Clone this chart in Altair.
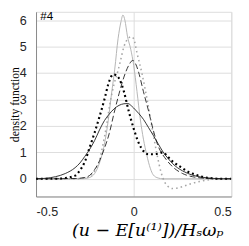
import altair as alt
import pandas as pd

# ---- data ----
gs_x = [-0.5, -0.3, -0.25, -0.225, -0.2, -0.175, -0.15, -0.13, -0.114, -0.097, -0.08, -0.065, -0.055,
        -0.045, -0.032, -0.015, 0.0, 0.017, 0.033, 0.05, 0.067, 0.085, 0.1, 0.125, 0.15, 0.5]
gs_y = [0, 0, 0.01, 0.05, 0.2, 0.6, 1.3, 2.22, 3.19, 4.15, 5.3, 5.95, 6.2,
        6.0, 5.4, 4.9, 4.3, 3.3, 2.3, 1.5, 0.9, 0.4, 0.15, 0.03, 0, 0]

gd_x = [-0.5, -0.3, -0.25, -0.225, -0.2, -0.175, -0.16, -0.14, -0.122, -0.1, -0.08, -0.066, -0.05, -0.03,
        -0.012, 0.0, 0.017, 0.042, 0.07, 0.095, 0.12, 0.14, 0.157, 0.175, 0.2, 0.225, 0.257, 0.3, 0.34,
        0.4, 0.45, 0.5]
gd_y = [0, 0, 0.03, 0.1, 0.3, 0.7, 1.2, 1.97, 2.82, 3.6, 4.1, 4.52, 5.0, 5.3,
        5.38, 5.3, 4.76, 4.0, 2.95, 1.9, 0.9, 0.25, -0.1, -0.28, -0.37, -0.35, -0.28, -0.17, -0.1,
        -0.02, 0, 0]

bd_x = [-0.5, -0.3, -0.25, -0.225, -0.2, -0.175, -0.15, -0.125, -0.1, -0.075, -0.05, -0.025, -0.005,
        0.01, 0.025, 0.05, 0.075, 0.1, 0.125, 0.15, 0.175, 0.2, 0.25, 0.3, 0.35, 0.4, 0.5]
bd_y = [0, 0.01, 0.05, 0.13, 0.35, 0.68, 1.15, 1.72, 2.5, 3.22, 3.85, 4.3, 4.48,
        4.35, 4.04, 3.3, 2.6, 1.85, 1.24, 0.9, 0.65, 0.45, 0.2, 0.08, 0.03, 0.01, 0]

bk_x = [-0.5, -0.4, -0.35, -0.3, -0.275, -0.25, -0.225, -0.2, -0.175, -0.15, -0.125, -0.105, -0.09,
        -0.075, -0.05, -0.025, 0.0, 0.025, 0.05, 0.075, 0.1, 0.125, 0.15, 0.175, 0.2, 0.225, 0.25,
        0.275, 0.3, 0.35, 0.4, 0.45, 0.5]
bk_y = [0, 0, 0.03, 0.12, 0.32, 0.65, 1.2, 1.75, 2.35, 3.0, 3.7, 3.95, 3.92,
        3.8, 3.3, 2.55, 1.9, 1.37, 1.05, 0.93, 0.93, 0.95, 1.0, 0.83, 0.65, 0.52, 0.4,
        0.28, 0.2, 0.08, 0.02, 0, 0]

bs_x = [-0.5, -0.45, -0.4, -0.35, -0.3, -0.275, -0.25, -0.225, -0.2, -0.175, -0.15, -0.125, -0.1,
        -0.075, -0.05, -0.03, -0.01, 0.01, 0.025, 0.05, 0.075, 0.1, 0.125, 0.15, 0.175, 0.2, 0.25,
        0.3, 0.35, 0.4, 0.45, 0.5]
bs_y = [0, 0.02, 0.08, 0.2, 0.42, 0.6, 0.85, 1.12, 1.45, 1.85, 2.2, 2.45, 2.65,
        2.78, 2.84, 2.85, 2.75, 2.6, 2.48, 2.25, 1.95, 1.65, 1.33, 1.02, 0.78, 0.57, 0.3,
        0.14, 0.06, 0.02, 0, 0]

x_ticks = [-0.5, 0, 0.5]
y_ticks = [0, 1, 2, 3, 4, 5, 6]
panel_label = ["#4"]
panel_label_x = [-0.478]
panel_label_y = [6.14]

X_DOMAIN = [-0.5, 0.5]
Y_DOMAIN = [-0.67, 6.32]


def frame(xs, ys):
    return pd.DataFrame({"x": xs, "y": ys})


xsc = alt.Scale(domain=X_DOMAIN, nice=False, zero=False)
ysc = alt.Scale(domain=Y_DOMAIN, nice=False, zero=False)

LABEL_FONT = "Liberation Sans"
xax = alt.Axis(values=x_ticks, labelExpr="'' + datum.value", ticks=False, labelPadding=10,
               labelFont=LABEL_FONT, labelFontSize=13, labelColor="#262626", labelOverlap=False,
               grid=True, title="(u − E[u⁽¹⁾])/Hₛωₚ", titleFont="DejaVu Serif",
               titleFontSize=18, titleFontStyle="italic", titleFontWeight="normal",
               titleColor="black", titlePadding=3, titleX=115)
yax = alt.Axis(values=y_ticks, labelExpr="'' + datum.value", ticks=False, labelPadding=10,
               grid=True, labelFont=LABEL_FONT, labelFontSize=13, labelColor="#262626",
               labelOverlap=False, labelBound=False,
               title="density function", titleFont="Liberation Serif", titleFontSize=12,
               titleFontWeight="normal", titleColor="black", titleX=-18,
               titleBaseline="alphabetic")

X_ENC = alt.X("x:Q", scale=xsc, axis=xax)
Y_ENC = alt.Y("y:Q", scale=ysc, axis=yax)


def line(df, color, width, dash=None):
    kw = dict(color=color, strokeWidth=width, interpolate="monotone", clip=True)
    if dash:
        kw["strokeDash"] = dash
    return alt.Chart(df).mark_line(**kw).encode(x=X_ENC, y=Y_ENC)


l_gs = line(frame(gs_x, gs_y), "#b3b3b3", 1.0)
l_gd = line(frame(gd_x, gd_y), "#a6a6a6", 1.6, dash=[1.6, 3.2])
l_bd = line(frame(bd_x, bd_y), "#1a1a1a", 0.9, dash=[6, 3])
l_bk = line(frame(bk_x, bk_y), "#000000", 2.2, dash=[2, 3])
l_bs = line(frame(bs_x, bs_y), "#1a1a1a", 0.9)

lab = alt.Chart(pd.DataFrame({"t": panel_label, "x": panel_label_x, "y": panel_label_y})).mark_text(
    align="left", baseline="middle", font="Liberation Sans", fontSize=12, color="black"
).encode(x=X_ENC, y=Y_ENC, text="t:N")

chart = alt.layer(l_gs, l_gd, l_bd, l_bk, l_bs, lab).properties(
    width=202, height=191,
    autosize=alt.AutoSizeParams(type="none"),
    padding={"left": 29, "top": 0, "right": 10, "bottom": 40},
).configure_view(stroke="#8c8c8c", strokeWidth=1).configure_axis(
    domainColor="#8c8c8c", domainWidth=1, gridColor="#e3e3e3", gridWidth=1, labelOverlap=False,
).configure(background="white")

chart.save("out.html", embed_options={"renderer": "svg", "actions": False})
